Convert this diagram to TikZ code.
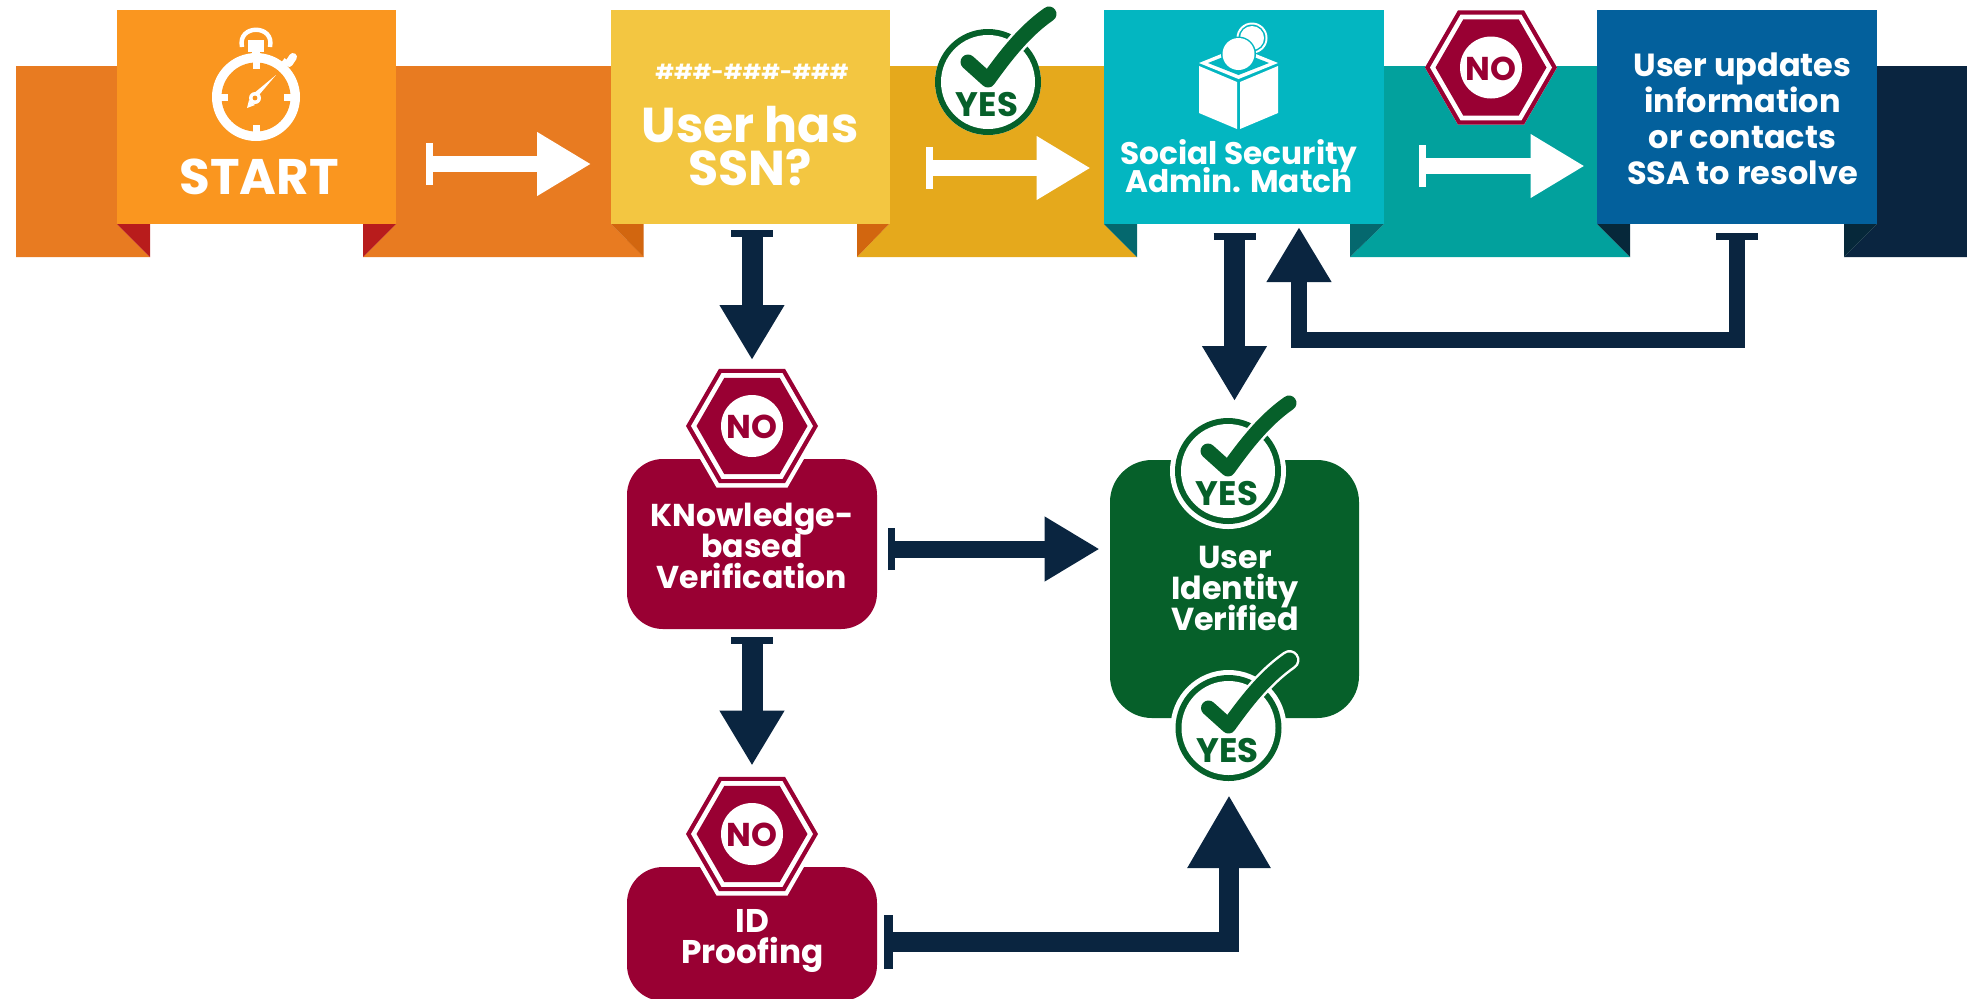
\documentclass[tikz,border=0pt]{standalone}
\usepackage{fontspec}
\setmainfont{Poppins}
\usetikzlibrary{arrows.meta,calc}
\definecolor{crimson}{HTML}{990033}
\definecolor{vgreen}{HTML}{06602A}
\definecolor{navy}{HTML}{0A2540}
\definecolor{orgband}{HTML}{E87B21}
\definecolor{orgbox}{HTML}{FA961F}
\definecolor{redfold}{HTML}{B81C1C}
\definecolor{yelbox}{HTML}{F3C641}
\definecolor{yelband}{HTML}{E5A91C}
\definecolor{yelfold}{HTML}{D2660F}
\definecolor{tealbox}{HTML}{03B6C1}
\definecolor{tealband}{HTML}{02A19D}
\definecolor{tealfold}{HTML}{05686E}
\definecolor{bluebox}{HTML}{03609C}
\definecolor{darkfold}{HTML}{06283A}
\tikzset{
  px/.style={x=0.5pt,y=-0.5pt},
  ribbonbox/.style={rectangle,draw=none,inner sep=0pt,minimum width=#1*0.5pt,minimum height=107pt},
  roundbox/.style={rectangle,draw=none,inner sep=0pt,rounded corners=18pt},
  label/.style={text=white,font=\bfseries,align=center,inner sep=0pt},
  navyarrow/.style={draw=navy,line width=#1*0.5pt},
  whitearrow/.style={draw=white,line width=8pt,
    {Bar[width=21pt,line width=3.5pt,sep=0pt]}-{Triangle[width=30pt,length=27pt]}},
  navyhead/.style={{Bar[width=21pt,line width=3.5pt,sep=0pt]}-{Triangle[width=30.5pt,length=27.5pt]}},
  bighead/.style={{Bar[width=27pt,line width=4.5pt,sep=0pt]}-{Triangle[width=39pt,length=36.5pt]}},
}
\newcommand{\fs}[2]{\fontsize{#1}{#2}\selectfont\lineskiplimit=-60pt\relax}
\newcommand{\hexpath}[1]{(0:#1)--(60:#1)--(120:#1)--(180:#1)--(240:#1)--(300:#1)--cycle}
% name, x, y, halo radius
\newcommand{\nobadge}[4]{%
  \begin{scope}[shift={(#2,#3)}]
    \fill[white] \hexpath{#4};
    \fill[crimson] \hexpath{66};
    \fill[white] \hexpath{61};
    \fill[crimson] \hexpath{55.5};
    \node[circle,fill=white,minimum size=31pt,inner sep=0pt] (#1) at (0,0) {};
    \node[text=crimson,font=\bfseries\fs{16.5}{16.5},inner sep=0pt] (#1-t) at (0,1) {NO};
  \end{scope}}
% name, x, y, halo radius
\newcommand{\yesbadge}[4]{%
  \begin{scope}[shift={(#2,#3)}]
    \fill[white] (0,0) circle (#4);
    \fill[vgreen] (0,0) circle (53);
    \node[circle,fill=white,minimum size=47pt,inner sep=0pt] (#1) at (0,0) {};
    \draw[white,line width=10pt,line cap=round,line join=round] (-20,-20)--(0,-2) .. controls (20,-30) and (38,-52) .. (61,-68);
    \draw[vgreen,line width=7.5pt,line cap=round,line join=round] (-20,-20)--(0,-2) .. controls (20,-30) and (38,-52) .. (61,-68);
    \node[text=vgreen,font=\bfseries\fs{17}{17},inner sep=0pt] (#1-t) at (-1,22.5) {YES};
  \end{scope}}
\begin{document}
\begin{tikzpicture}[px]
\useasboundingbox (0,0) rectangle (1967,998);
% ribbon bands
\fill[orgband] (16,66)--(117,66)--(117,224)--(150,257)--(16,257)--cycle;
\fill[orgband] (396,66)--(611,66)--(611,224)--(643.5,257)--(363,257)--(396,224)--cycle;
\fill[yelband] (889,66)--(1104,66)--(1104,224)--(1137,257)--(857,257)--(889,224)--cycle;
\fill[tealband] (1384,66)--(1597,66)--(1597,224)--(1630,257)--(1350,257)--(1384,224)--cycle;
\fill[navy] (1877,66)--(1967,66)--(1967,257)--(1844,257)--(1877,224)--cycle;
% folds
\fill[redfold] (117,224)--(150,224)--(150,257)--cycle;
\fill[redfold] (396,224)--(363,224)--(363,257)--cycle;
\fill[yelfold] (611,224)--(643.5,224)--(643.5,257)--cycle;
\fill[yelfold] (889,224)--(857,224)--(857,257)--cycle;
\fill[tealfold] (1104,224)--(1137,224)--(1137,257)--cycle;
\fill[tealfold] (1384,224)--(1350,224)--(1350,257)--cycle;
\fill[darkfold] (1597,224)--(1630,224)--(1630,257)--cycle;
\fill[darkfold] (1877,224)--(1844,224)--(1844,257)--cycle;
% ribbon boxes
\node[ribbonbox=279.5,fill=orgbox] (start) at (256.5,117) {};
\node[ribbonbox=279,fill=yelbox] (ssn) at (750,117) {};
\node[ribbonbox=280,fill=tealbox] (ssa) at (1244,117) {};
\node[ribbonbox=280,fill=bluebox] (upd) at (1737,117) {};
% stopwatch
\begin{scope}[shift={(256,97)}]
  \fill[white] (0,0) circle (44);
  \fill[orgbox] (0,0) circle (34.5);
  \fill[white] (-3.5,-36) rectangle (3.5,-28);
  \fill[white] (-3.5,36) rectangle (3.5,28);
  \fill[white] (-36,-3.5) rectangle (-28,3.5);
  \fill[white] (36,-3.5) rectangle (28,3.5);
  \fill[white] (-8,-57) rectangle (8,-45);
  \fill[white] (-4,-46) rectangle (4,-42);
  \draw[white,line width=2.2pt] (-14,-50) .. controls (-19,-73) and (19,-73) .. (14,-50);
  \draw[white,line width=3pt] (27,-32)--(31,-37);
  \draw[white,line width=4pt,line cap=round] (33,-34)--(37,-40);
  \fill[white] (20,-22)--(3,-2)--(-3,-3)--cycle;
  \fill[white] (-7,3)--(-9,11)--(-1,8)--cycle;
  \fill[white] (-1,1) circle (6);
  \fill[orgbox] (-1,1) circle (2.4);
\end{scope}
\node[label,font=\bfseries\fs{25}{25}] (startt) at (259,177) {START};
% SSN text
\node[label,font=\bfseries\fs{10.4}{10.4}] (hash) at (752,72) {\#\#\#-\#\#\#-\#\#\#};
\node[label,font=\bfseries\fs{24.5}{21.5}] (ssnt) at (750,146) {User has\\SSN?};
% ballot box
\fill[white] (1199,66)--(1237,82)--(1237,129)--(1199,113)--cycle;
\fill[white] (1278,66)--(1240,82)--(1240,129)--(1278,113)--cycle;
\fill[white] (1199,63)--(1238.5,47)--(1278,63)--(1238.5,79)--cycle;
\fill[tealbox] (1208,63)--(1238.5,51)--(1269,63)--(1238.5,75)--cycle;
\fill[white] (1252,38) circle (15.5);
\fill[tealbox] (1252,38) circle (13.5);
\fill[white] (1252,38) circle (12);
\fill[tealbox] (1238.5,54) circle (17.5);
\fill[white] (1238.5,54) circle (16);
\node[label,font=\bfseries\fs{15.6}{14.2}] (ssat) at (1239,166) {Social Security\\Admin. Match};
\node[label,font=\bfseries\fs{16}{18}] (updt) at (1742.5,119) {User updates\\information\\or contacts\\SSA to resolve};
% verification boxes
\node[roundbox,fill=crimson,minimum width=125pt,minimum height=85pt] (kbv) at (752,544) {};
\node[roundbox,fill=vgreen,minimum width=124.5pt,minimum height=129pt,rounded corners=21pt] (uiv) at (1234.5,589) {};
\node[roundbox,fill=crimson,minimum width=125pt,minimum height=67pt] (idp) at (752,934) {};
\node[label,font=\bfseries\fs{15.8}{15.5}] (kbvt) at (752,546) {KNowledge-\\based\\Verification};
\node[label,font=\bfseries\fs{15.9}{15.5}] (uivt) at (1235,588) {User\\Identity\\Verified};
\node[label,font=\bfseries\fs{16.4}{15.5}] (idpt) at (752.5,941) {ID\\Proofing};
% badges
\yesbadge{yes1}{988}{82}{53}
\nobadge{no1}{1491}{67.5}{66}
\nobadge{no2}{752}{426}{71}
\nobadge{no3}{752}{834}{71}
\yesbadge{yes2}{1228}{471}{58}
\yesbadge{yes3}{1228.5}{728}{58}
% white arrows
\draw[whitearrow,shorten <=14.5pt,shorten >=9.5pt] ([yshift=-23.5pt]start.east) -- ([yshift=-23.5pt]ssn.west);
\draw[whitearrow,shorten <=18pt,shorten >=6.5pt] ([yshift=-25.5pt]ssn.east) -- ([yshift=-25.5pt]ssa.west);
\draw[whitearrow,shorten <=17.5pt,shorten >=6pt] ([yshift=-24.5pt]ssa.east) -- ([yshift=-24.5pt]upd.west);
% navy connectors
\draw[navyarrow=21,navyhead,shorten <=3pt,shorten >=4pt] (ssn.south -| kbv.north) -- (no2.north |- 0,368);
\draw[navyarrow=21,navyhead,shorten <=4pt,shorten >=18.5pt] (kbv.south) -- (kbv.south |- no3.north);
\draw[navyarrow=17,navyhead,shorten <=5.5pt,shorten >=5pt] ([yshift=-2.5pt]kbv.east) -- ([yshift=-2.5pt]kbv.east -| uiv.west);
\draw[navyarrow=21,navyhead,shorten <=4.5pt,shorten >=0pt] (1234.5,224) -- (1234.5,401);
\draw[navyarrow=16,navyhead,shorten <=4.5pt,shorten >=1.5pt] (upd.south -| 1737,0) -- (1737,340) -| (1299,224);
\draw[navyarrow=20,bighead,shorten <=3.5pt] (idp.east |- 0,942) -- (1229,942) -- (1229,795);
\end{tikzpicture}
\end{document}
